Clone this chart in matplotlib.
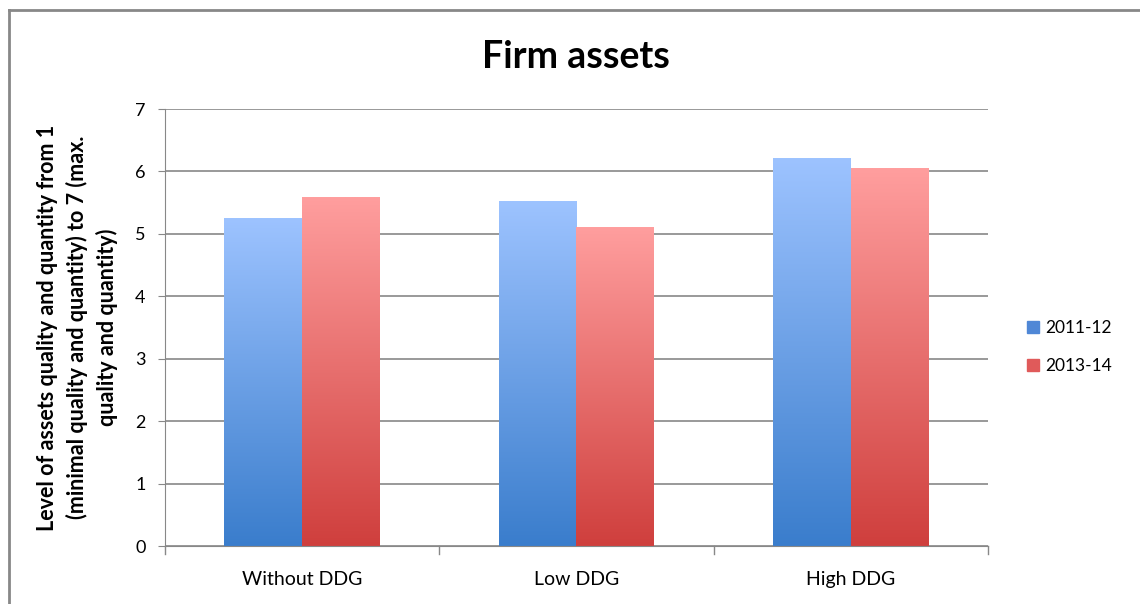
import numpy as np
import matplotlib.pyplot as plt
from matplotlib.colors import LinearSegmentedColormap
from matplotlib.lines import Line2D

plt.rcParams['font.family'] = ['Lato', 'DejaVu Sans']

categories = ['Without DDG', 'Low DDG', 'High DDG']
series_names = ['2011-12', '2013-14']
values_2011 = [5.24, 5.52, 6.21]
values_2013 = [5.58, 5.10, 6.04]

# gradient colours (top, bottom) per series
grad_colors = [('#9dc3ff', '#3a7dcc'), ('#ff9e9e', '#cf3f3d')]
legend_colors = ['#4f87d6', '#e05a5a']

fig = plt.figure(figsize=(11.4, 6.04), dpi=100)
ax = fig.add_axes([0.1447, 0.096, 0.722, 0.7235])

x = np.arange(len(categories))
width = 0.283
series = [values_2011, values_2013]

grad = np.linspace(0, 1, 256).reshape(-1, 1)
for i, vals in enumerate(series):
    cmap = LinearSegmentedColormap.from_list('g%d' % i, [grad_colors[i][1], grad_colors[i][0]])
    offs = (i - 0.5) * width
    for xi, v in zip(x, vals):
        left = xi + offs - width / 2
        ax.imshow(grad, cmap=cmap, origin='lower', aspect='auto',
                  extent=[left, left + width, 0, v], zorder=2)

ax.set_xlim(-0.5, len(categories) - 0.5)
ax.set_ylim(0, 7)
ax.set_yticks(range(8))
ax.set_xticks(x)
ax.set_xticklabels(categories, fontsize=14)
ax.tick_params(axis='y', labelsize=13, length=5, color='#888888', pad=9)
ax.tick_params(axis='x', length=0, pad=18)
# category separator ticks
for b in np.arange(-0.5, len(categories), 1.0):
    ax.plot([b, b], [0, -0.12], color='#888888', lw=1, clip_on=False, zorder=3)

ax.grid(axis='y', color='#888888', lw=1.2, zorder=1)
for s in ['top', 'right']:
    ax.spines[s].set_visible(False)
ax.spines['left'].set_color('#888888')
ax.spines['bottom'].set_color('#888888')

ax.set_ylabel('Level of assets quality and quantity from 1\n(minimal quality and quantity) to 7 (max.\nquality and quantity)',
              fontsize=15.5, fontweight='bold', labelpad=12, linespacing=1.45)

fig.text(0.505, 0.905, 'Firm assets', ha='center', va='center', fontsize=27, fontweight='bold')

handles = [Line2D([0], [0], marker='s', color='w', markerfacecolor=c, markeredgecolor=c,
                  markersize=8) for c in legend_colors]
fig.legend(handles, series_names, loc='center left', bbox_to_anchor=(0.885, 0.425),
           frameon=False, fontsize=12.5, handletextpad=0.2, labelspacing=1.25, handlelength=1.0)

# chart area frame
fig.add_artist(Line2D([0.008, 0.008], [0, 0.983], color='#888888', lw=2))
fig.add_artist(Line2D([0.008, 1.0], [0.983, 0.983], color='#888888', lw=2))

fig.savefig('out.png', dpi=100)
